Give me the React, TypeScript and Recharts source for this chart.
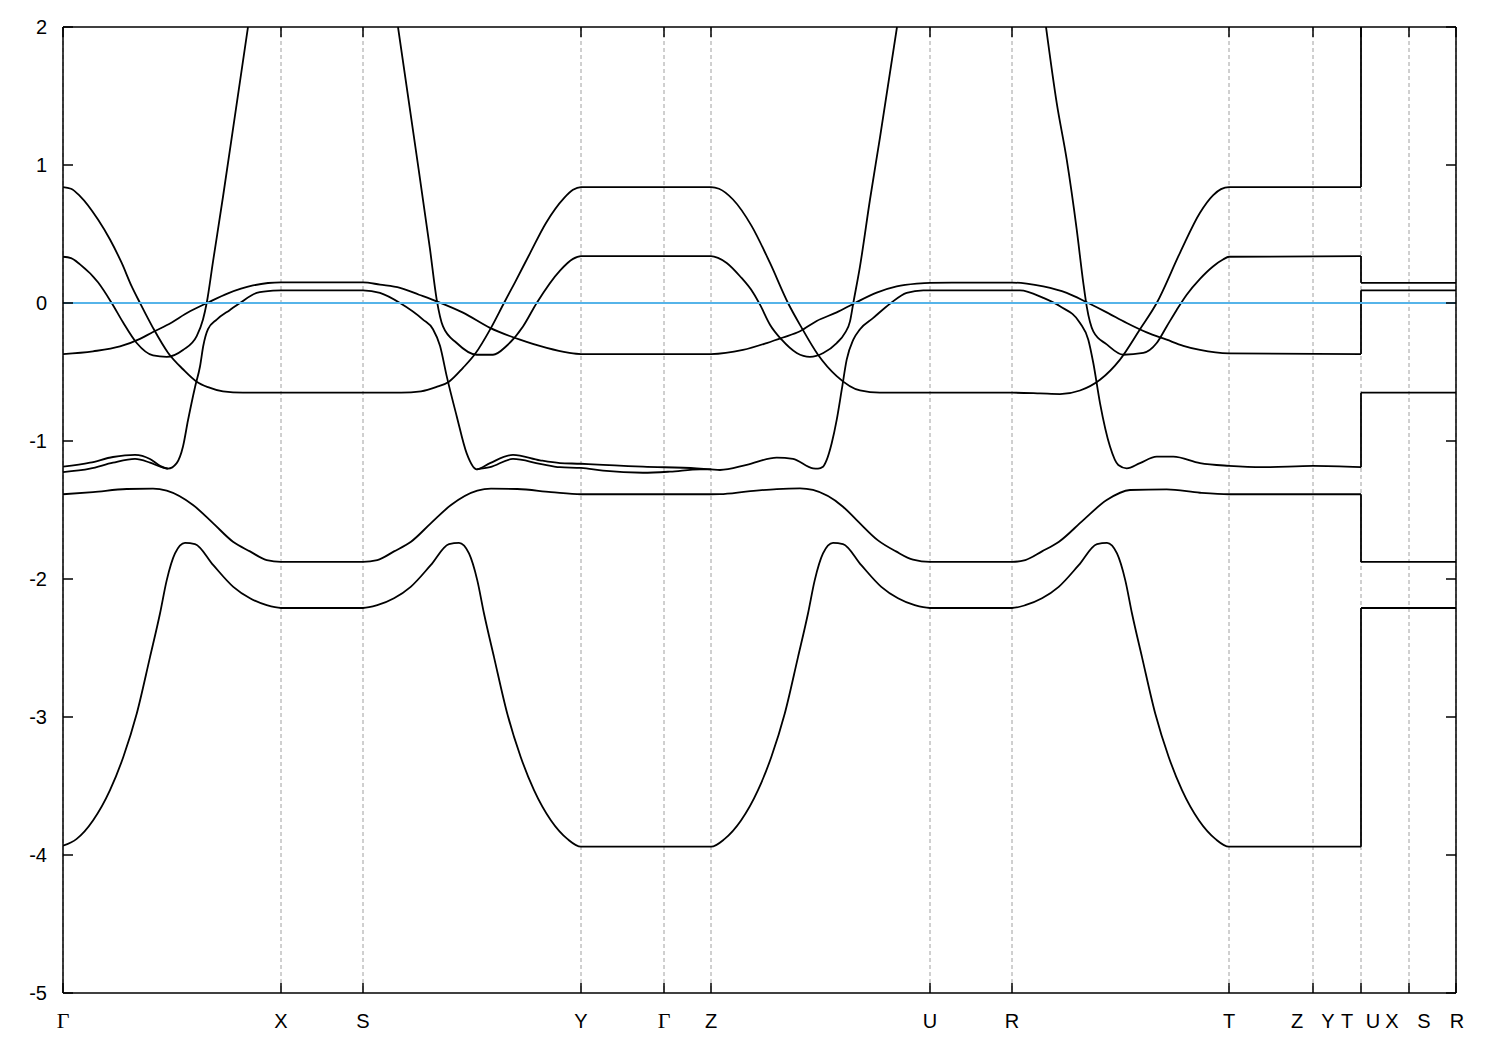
import React from 'react';
import { LineChart, Line, XAxis, YAxis, CartesianGrid } from 'recharts';

type Pt = [number, number | null];

// k-path positions (horizontal distance along the path) and their labels
const kPoints = [0, 218, 300, 518, 601, 648, 867, 949, 1166, 1250, 1298, 1346, 1393];
const kLabels = [['Γ'], ['X'], ['S'], ['Y'], ['Γ'], ['Z'], ['U'], ['R'], ['T'], ['Z'], ['Y', 'T'], ['U', 'X', 'S'], ['R']];
const energyTicks = [2, 1, 0, -1, -2, -3, -4, -5];

// bands, [k, E]
const bandA: Pt[] = [
  [0, 0.84], [8, 0.828], [17, 0.775], [35, 0.605], [47, 0.46], [58.7, 0.29], [68.7, 0.12], [77, 0], [90, -0.18], [105, -0.36], [120, -0.48], [133.7, -0.57], [145, -0.61], [160, -0.64], [180, -0.65], [218, -0.65],
  [300, -0.65], [338, -0.65], [358, -0.64], [373, -0.61], [386, -0.57], [400, -0.47], [412, -0.37], [428, -0.18], [441, 0], [452, 0.15], [467, 0.36], [483, 0.58], [501, 0.76], [510, 0.82], [518, 0.84],
  [648, 0.84], [656, 0.828], [670, 0.75], [688.7, 0.557], [707, 0.29], [725, 0], [738.7, -0.18], [755, -0.375], [773.7, -0.53], [797, -0.634], [817, -0.65], [867, -0.65],
  [949, -0.65], [977, -0.655], [997, -0.66], [1017, -0.634], [1037, -0.556], [1057, -0.41], [1077, -0.19], [1093.7, 0], [1117, 0.364], [1137, 0.654], [1150, 0.78], [1158, 0.825], [1166, 0.84],
  [1298, 0.84],
];

const bandB: Pt[] = [
  [0, 0.335], [8, 0.325], [17, 0.28], [35, 0.15], [48.7, 0], [60, -0.14], [73.7, -0.29], [90, -0.38], [103.7, -0.39], [120, -0.34], [133.7, -0.24], [140, -0.12], [143.7, 0], [150, 0.3], [160, 0.77], [172, 1.36], [185, 2], [200, null],
  [335, 2], [351, 1.2], [367, 0.39], [373.7, 0.025], [380, -0.17], [393.7, -0.29], [413.7, -0.375], [430, -0.375], [443.7, -0.31], [460, -0.17], [473.7, 0], [497, 0.235], [510, 0.32], [518, 0.34],
  [648, 0.34], [655, 0.327], [663.7, 0.29], [677, 0.194], [690.3, 0.073], [697, -0.012], [707, -0.157], [718.7, -0.266], [733.7, -0.362], [747, -0.39], [760.3, -0.362], [773.7, -0.29], [782, -0.217], [787, -0.133], [790.3, 0], [797, 0.266], [807, 0.75], [817, 1.2], [834, 2], [900, null],
  [983, 2], [993.7, 1.45], [1003.7, 1.04], [1013.7, 0.533], [1020.3, 0.146], [1023.7, -0.024], [1030.3, -0.205], [1043.7, -0.3], [1060.3, -0.375], [1080.3, -0.362], [1093.7, -0.29], [1103.7, -0.17], [1113.7, -0.05], [1123.7, 0.06], [1137, 0.175], [1150, 0.265], [1160, 0.315], [1166, 0.335],
  [1298, 0.34],
];

const bandC: Pt[] = [
  [0, -1.186], [27, -1.157], [50, -1.116], [72, -1.1], [87, -1.13], [97, -1.18], [105, -1.2], [113.7, -1.16], [120, -1.04], [125, -0.85], [132, -0.61], [137, -0.46], [140.3, -0.31], [145, -0.19], [153.7, -0.12], [167, -0.05], [177, 0], [193.7, 0.073], [210, 0.09], [218, 0.092],
  [300, 0.092], [317, 0.073], [337, 0], [360, -0.12], [370, -0.19], [377, -0.31], [383.7, -0.53], [393.7, -0.82], [403.7, -1.09], [413.7, -1.205], [427, -1.16], [450, -1.1], [477, -1.14], [497, -1.16], [518, -1.165],
  [530, -1.17], [580, -1.186], [633.7, -1.198], [648, -1.205],
  [657, -1.21], [683.7, -1.173], [713.7, -1.12], [730, -1.13], [750, -1.198], [755, -1.2], [760, -1.186], [763.7, -1.137], [768.7, -1.016], [773.7, -0.847], [778.7, -0.63], [783.7, -0.41], [790.3, -0.266], [797, -0.19], [810.3, -0.108], [827, -0.005], [843.7, 0.073], [860.3, 0.092], [867, 0.092],
  [949, 0.092], [957, 0.092], [980.3, 0.037], [997, -0.024], [1017, -0.145], [1025.3, -0.266], [1030.3, -0.435], [1037, -0.725], [1047, -1.04], [1055.3, -1.174], [1063.7, -1.198], [1077, -1.16], [1093.7, -1.113], [1110.3, -1.113], [1137, -1.16], [1166, -1.18],
  [1200, -1.19], [1250, -1.18], [1298, -1.19],
];

// second line of the split pair near -1.2
const bandC2: Pt[] = [
  [0, -1.225], [27, -1.2], [50, -1.157], [72, -1.13], [87, -1.157], [98.7, -1.19], [105, -1.2], [200, null],
  [413.7, -1.205], [427, -1.19], [450, -1.13], [477, -1.165], [497, -1.19], [518, -1.195], [540, -1.215], [580, -1.23], [607, -1.222], [637, -1.205], [648, -1.205],
];

const bandD: Pt[] = [
  [0, -0.37], [30, -0.35], [57, -0.315], [77, -0.26], [90, -0.21], [104, -0.16], [127, -0.06], [144, 0], [165, 0.07], [190, 0.127], [205, 0.145], [218, 0.15],
  [300, 0.15], [317, 0.133], [337, 0.11], [356, 0.06], [373.7, 0.012], [400, -0.07], [427, -0.18], [457, -0.266], [483.7, -0.326], [505, -0.36], [518, -0.37],
  [648, -0.37], [680, -0.34], [703.7, -0.29], [720, -0.25], [737, -0.205], [753.7, -0.13], [773.7, -0.068], [792, 0], [813.7, 0.075], [833.7, 0.12], [853.7, 0.14], [867, 0.146],
  [949, 0.148], [963.7, 0.14], [980.3, 0.12], [1003.7, 0.073], [1023.7, 0.005], [1043.7, -0.068], [1063.7, -0.145], [1083.7, -0.213], [1103.7, -0.266], [1120.3, -0.31], [1137, -0.34], [1166, -0.365],
  [1298, -0.37],
];

const bandE: Pt[] = [
  [0, -1.386], [30, -1.37], [63.7, -1.348], [90, -1.345], [103.7, -1.36], [130, -1.464], [150, -1.595], [170, -1.73], [187, -1.8], [203.7, -1.863], [218, -1.876],
  [300, -1.876], [314.3, -1.863], [331, -1.8], [348, -1.73], [368, -1.595], [388, -1.464], [414.3, -1.36], [428, -1.345], [454.3, -1.348], [488, -1.37], [518, -1.386],
  [648, -1.386], [657, -1.385], [685, -1.365], [713.7, -1.348], [737, -1.343], [750, -1.355], [780, -1.476], [793.7, -1.573], [815, -1.72], [833, -1.8], [850, -1.86], [867, -1.876],
  [949, -1.876], [962.3, -1.863], [979, -1.8], [996, -1.73], [1020.3, -1.573], [1043.7, -1.428], [1067, -1.355], [1103.7, -1.35], [1137, -1.375], [1166, -1.386],
  [1298, -1.386],
];

const bandF: Pt[] = [
  [0, -3.933], [13.4, -3.885], [30, -3.75], [47, -3.53], [60.3, -3.29], [73.7, -2.977], [87, -2.566], [97, -2.25], [103.7, -2.01], [112, -1.815], [122, -1.738], [132, -1.747], [150.3, -1.9], [170.3, -2.057], [187, -2.14], [203.7, -2.19], [218, -2.21],
  [300, -2.21], [314.3, -2.19], [331, -2.14], [347.7, -2.057], [367.7, -1.9], [386, -1.747], [396, -1.738], [406, -1.815], [414.3, -2.01], [421, -2.25], [431, -2.566], [444.3, -2.977], [457.7, -3.29], [471, -3.53], [488, -3.75], [504.6, -3.885], [518, -3.94],
  [648, -3.94], [661.4, -3.885], [678, -3.75], [695, -3.53], [708.3, -3.29], [721.7, -2.977], [735, -2.566], [745, -2.25], [751.7, -2.01], [760, -1.815], [770, -1.738], [780, -1.747], [798.3, -1.9], [818.3, -2.057], [835, -2.14], [851.7, -2.19], [867, -2.21],
  [949, -2.21], [962.3, -2.19], [979, -2.14], [995.7, -2.057], [1015.7, -1.9], [1034, -1.747], [1044, -1.738], [1054, -1.815], [1062.3, -2.01], [1069, -2.25], [1079, -2.566], [1092.3, -2.977], [1105.7, -3.29], [1119, -3.53], [1136, -3.75], [1152.6, -3.885], [1166, -3.94],
  [1298, -3.94],
];

// discontinuity at the path break and the flat tail after it
const jumpK = 1298;
const endK = 1393;
const jumps: [number, number][] = [[0.84, 2], [0.34, 0.146], [-0.37, 0.092], [-1.19, -0.65], [-1.386, -1.876], [-3.94, -2.21]];
const tails = [0.146, 0.092, -0.65, -1.876, -2.21];
const fermi: Pt[] = [[0, 0], [endK, 0]];

const bands = [bandA, bandB, bandC, bandC2, bandD, bandE, bandF];

const toPts = (arr: Pt[]) => arr.map(([k, e]) => ({ k, e }));

const SANS = '"Liberation Sans", Arial, sans-serif';
const SERIF = '"Liberation Serif", "Times New Roman", serif';
const labelDx = [[0], [0], [0], [0], [0], [0], [0], [0], [0], [-16], [-33, -14], [-36, -17, 15], [1]];
const frame = { stroke: '#000', strokeWidth: 1.5 };

const BottomTick = (props: any) => {
  const { x, y, payload } = props;
  const i = kPoints.indexOf(payload.value);
  const labels = kLabels[i] || [];
  return (
    <g>
      <line x1={x} x2={x} y1={y} y2={y - 10} stroke="#000" strokeWidth={1.5} />
      {labels.map((t, j) => (
        <text key={j} x={x + labelDx[i][j]} y={y + 35} textAnchor="middle"
          fontFamily={t === 'Γ' ? SERIF : SANS} fontSize={t === 'Γ' ? 22 : 20} fill="#000">{t}</text>
      ))}
    </g>
  );
};

const TopTick = (props: any) => {
  const { x, y } = props;
  return <line x1={x} x2={x} y1={y} y2={y + 10} stroke="#000" strokeWidth={1.5} />;
};

const LeftTick = (props: any) => {
  const { x, y, payload } = props;
  return (
    <g>
      <line x1={x} x2={x + 10} y1={y} y2={y} stroke="#000" strokeWidth={1.5} />
      <text x={x - 16} y={y} dy="0.35em" textAnchor="end" fontFamily={SANS} fontSize={20} fill="#000">{String(payload.value)}</text>
    </g>
  );
};

const RightTick = (props: any) => {
  const { x, y } = props;
  return <line x1={x} x2={x - 10} y1={y} y2={y} stroke="#000" strokeWidth={1.5} />;
};

export default function App() {
  const lineProps = { dataKey: 'e', stroke: '#000', strokeWidth: 1.8, dot: false, activeDot: false, isAnimationActive: false };
  return (
    <div style={{ width: 1492, height: 1042, background: '#fff' }}>
      <LineChart width={1492} height={1042} margin={{ top: 18, right: 43, left: 0, bottom: 0 }}>
        <CartesianGrid horizontal={false} stroke="#a0a0a0" strokeDasharray="4 3" strokeWidth={1} />
        <XAxis dataKey="k" type="number" domain={[0, endK]} allowDataOverflow ticks={kPoints} interval={0}
          height={57} tickSize={0} tickMargin={0} tickLine={false} tick={<BottomTick />} axisLine={frame} />
        <XAxis xAxisId="top" orientation="top" dataKey="k" type="number" domain={[0, endK]} allowDataOverflow ticks={kPoints} interval={0}
          height={1} tickSize={0} tickMargin={0} tickLine={false} tick={<TopTick />} axisLine={frame} />
        <YAxis type="number" domain={[-5, 2]} allowDataOverflow ticks={energyTicks} interval={0}
          width={55} tickSize={0} tickMargin={0} tickLine={false} tick={<LeftTick />} axisLine={frame} />
        <YAxis yAxisId="right" orientation="right" type="number" domain={[-5, 2]} allowDataOverflow ticks={energyTicks} interval={0}
          width={1} tickSize={0} tickMargin={0} tickLine={false} tick={<RightTick />} axisLine={frame} />
        {bands.map((b, i) => (
          <Line key={'b' + i} data={toPts(b)} type="monotone" {...lineProps} />
        ))}
        {jumps.map(([a, b], i) => (
          <Line key={'j' + i} data={[{ k: jumpK, e: a }, { k: jumpK, e: b }]} type="linear" {...lineProps} />
        ))}
        {tails.map((v, i) => (
          <Line key={'t' + i} data={[{ k: jumpK, e: v }, { k: endK, e: v }]} type="linear" {...lineProps} />
        ))}
        <Line data={toPts(fermi)} xAxisId="top" yAxisId="right" type="linear" {...lineProps} stroke="#56b4e9" strokeWidth={2} />
      </LineChart>
    </div>
  );
}
